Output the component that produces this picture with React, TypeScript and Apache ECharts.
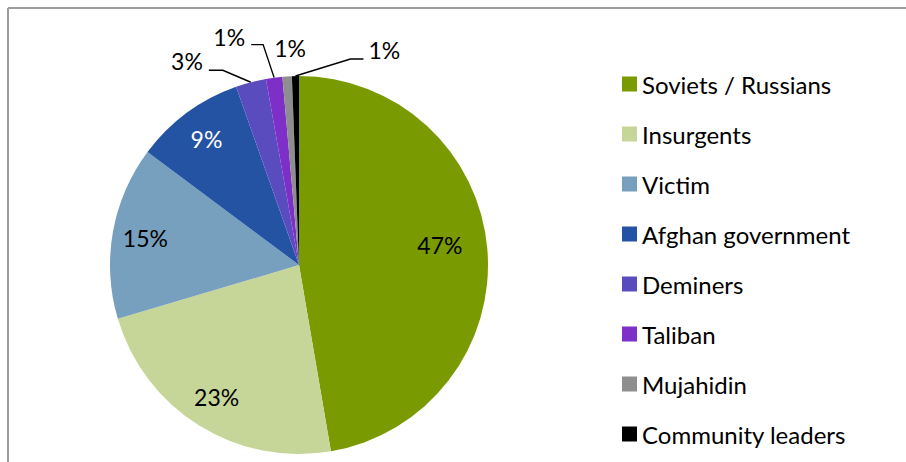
import React, { useEffect, useRef } from "react";
import * as echarts from "echarts";

const categories = [
  "Soviets / Russians",
  "Insurgents",
  "Victim",
  "Afghan government",
  "Deminers",
  "Taliban",
  "Mujahidin",
  "Community leaders",
];
const values = [47.3, 23.1, 14.8, 9.4, 2.6, 1.4, 0.8, 0.6];
const colors = ["#7A9A01", "#C6D699", "#76A0BE", "#2553A3", "#5A4CBE", "#7D2FC8", "#8E8E8E", "#000000"];
const labelColors = ["#000", "#000", "#000", "#fff", "#000", "#000", "#000", "#000"];
const insideLabel = [true, true, true, true, false, false, false, false];

// leader-line offsets (relative to slice edge point) for outside labels
const leaderOffsets: Record<number, { elbow: number[]; end: number[]; align: string; lx: number; ly: number; line: boolean }> = {
  4: { elbow: [-28, -12], end: [-42, -12], align: "right", lx: -6, ly: -9.5, line: true },
  5: { elbow: [-11, -33], end: [-23, -33], align: "right", lx: -6, ly: -7.5, line: true },
  6: { elbow: [0, 0], end: [3, -28.5], align: "center", lx: 0, ly: 0, line: false },
  7: { elbow: [55, -17], end: [68, -17], align: "left", lx: 5, ly: -9, line: true },
};

const CX = 299;
const CY = 265;
const R = 189;
const FONT = "Lato";

export default function App() {
  const ref = useRef<HTMLDivElement>(null);
  useEffect(() => {
    if (!ref.current) return;
    const chart = echarts.init(ref.current, undefined, { renderer: "svg" });
    const data = categories.map((name, i) => ({
      name,
      value: values[i],
      itemStyle: { color: colors[i] },
      label: {
        position: insideLabel[i] ? "inside" : "outside",
        color: labelColors[i],
      },
      labelLine: { show: !insideLabel[i] && (leaderOffsets[i] ? leaderOffsets[i].line : true) },
    }));
    chart.setOption({
      animation: false,
      backgroundColor: "#fff",
      graphic: [
        { type: "line", shape: { x1: 8, y1: 8, x2: 906, y2: 8 }, style: { stroke: "#9c9c9c", lineWidth: 2 } },
        { type: "line", shape: { x1: 8, y1: 8, x2: 8, y2: 462 }, style: { stroke: "#9c9c9c", lineWidth: 2 } },
      ],
      legend: {
        orient: "vertical",
        left: 622,
        top: 72,
        padding: 0,
        itemWidth: 15,
        itemHeight: 15,
        itemGap: 26,
        icon: "rect",
        selectedMode: false,
        textStyle: { fontFamily: FONT, fontSize: 24, color: "#000", lineHeight: 24 },
        data: categories.map((name, i) => ({ name, itemStyle: { color: colors[i] } })),
      },
      series: [
        {
          type: "pie",
          center: [CX, CY],
          radius: R,
          startAngle: 90,
          clockwise: true,
          avoidLabelOverlap: false,
          data,
          itemStyle: { borderWidth: 0 },
          emphasis: { disabled: true },
          label: {
            fontFamily: FONT,
            fontSize: 23,
            formatter: (p: any) => Math.round(p.value) + "%",
          },
          labelLine: { length: 10, length2: 10, smooth: false, lineStyle: { color: "#000", width: 1.4 } },
          labelLayout: (params: any) => {
            const i = params.dataIndex;
            if (insideLabel[i]) {
              const lr = params.labelRect;
              const lx = lr.x + lr.width / 2;
              const ly = lr.y + lr.height / 2;
              const k = i === 0 ? 1.45 : 1.6;
              return {
                x: CX + (lx - CX) * k,
                y: CY + (ly - CY) * k - (i === 0 ? 8 : 0),
                align: "center",
                verticalAlign: "middle",
              };
            }
            const o = leaderOffsets[i];
            const pts = params.labelLinePoints;
            if (!o || !pts) return {};
            const a = pts[0];
            const elbow = [a[0] + o.elbow[0], a[1] + o.elbow[1]];
            const end = [a[0] + o.end[0], a[1] + o.end[1]];
            return {
              x: end[0] + o.lx,
              y: end[1] + o.ly,
              align: o.align,
              verticalAlign: "middle",
              labelLinePoints: [a, elbow, end],
            };
          },
        },
      ],
    });
    return () => chart.dispose();
  }, []);
  return <div ref={ref} style={{ position: "fixed", left: 0, top: 0, width: 906, height: 462 }} />;
}
